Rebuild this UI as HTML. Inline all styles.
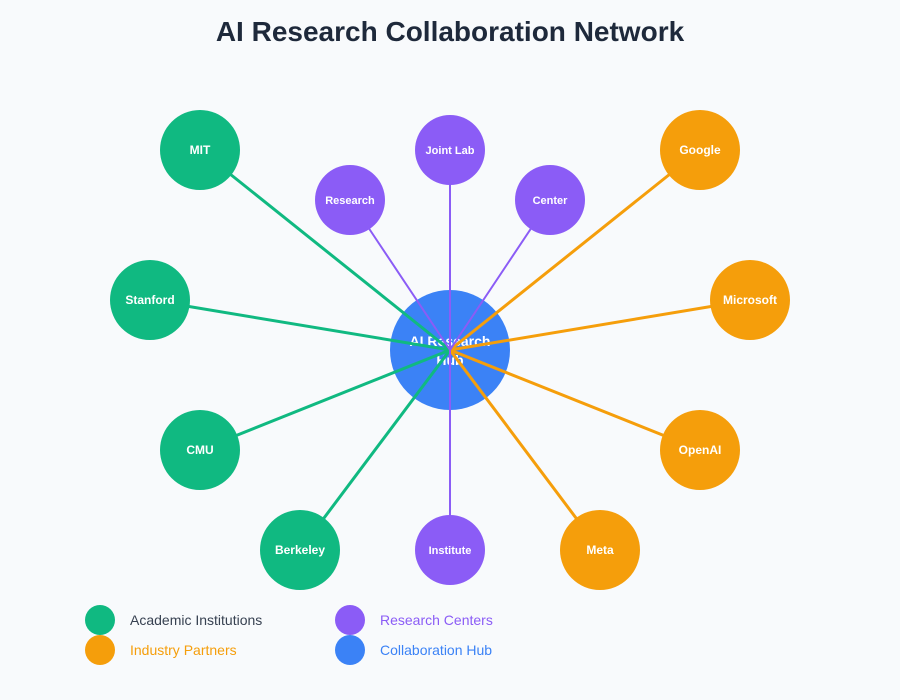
<!DOCTYPE html>
<html><head><meta charset="utf-8"><style>
html,body{margin:0;padding:0;background:#f8fafc;}
svg{display:block;}
text{font-family:"Liberation Sans",Arial,sans-serif;}
</style></head><body>
<svg width="900" height="700" viewBox="0 0 900 700" xmlns="http://www.w3.org/2000/svg">
<rect width="900" height="700" fill="#f8fafc"/>
<text x="450" y="41" text-anchor="middle" font-size="28" font-weight="bold" fill="#1e293b">AI Research Collaboration Network</text>
<circle cx="450" cy="350" r="60" fill="#3b82f6"/>
<text x="450" y="346" text-anchor="middle" font-size="14" font-weight="bold" fill="#fff">AI Research</text>
<text x="450" y="365" text-anchor="middle" font-size="14" font-weight="bold" fill="#fff">Hub</text>
<g stroke-width="3" fill="none">
<line x1="450" y1="350" x2="200" y2="150" stroke="#10b981"/>
<line x1="450" y1="350" x2="150" y2="300" stroke="#10b981"/>
<line x1="450" y1="350" x2="200" y2="450" stroke="#10b981"/>
<line x1="450" y1="350" x2="300" y2="550" stroke="#10b981"/>
<line x1="450" y1="350" x2="700" y2="150" stroke="#f59e0b"/>
<line x1="450" y1="350" x2="750" y2="300" stroke="#f59e0b"/>
<line x1="450" y1="350" x2="700" y2="450" stroke="#f59e0b"/>
<line x1="450" y1="350" x2="600" y2="550" stroke="#f59e0b"/>
</g>
<g stroke-width="2" stroke="#8b5cf6">
<line x1="450" y1="350" x2="350" y2="200"/>
<line x1="450" y1="350" x2="450" y2="150"/>
<line x1="450" y1="350" x2="550" y2="200"/>
<line x1="450" y1="350" x2="450" y2="550"/>
</g>
<g font-weight="bold" fill="#fff" text-anchor="middle">
<circle cx="200" cy="150" r="40" fill="#10b981"/><text x="200" y="154" font-size="12">MIT</text>
<circle cx="150" cy="300" r="40" fill="#10b981"/><text x="150" y="304" font-size="12">Stanford</text>
<circle cx="200" cy="450" r="40" fill="#10b981"/><text x="200" y="454" font-size="12">CMU</text>
<circle cx="300" cy="550" r="40" fill="#10b981"/><text x="300" y="554" font-size="12">Berkeley</text>
<circle cx="700" cy="150" r="40" fill="#f59e0b"/><text x="700" y="154" font-size="12">Google</text>
<circle cx="750" cy="300" r="40" fill="#f59e0b"/><text x="750" y="304" font-size="12">Microsoft</text>
<circle cx="700" cy="450" r="40" fill="#f59e0b"/><text x="700" y="454" font-size="12">OpenAI</text>
<circle cx="600" cy="550" r="40" fill="#f59e0b"/><text x="600" y="554" font-size="12">Meta</text>
<circle cx="350" cy="200" r="35" fill="#8b5cf6"/><text x="350" y="204" font-size="11">Research</text>
<circle cx="450" cy="150" r="35" fill="#8b5cf6"/><text x="450" y="154" font-size="11">Joint Lab</text>
<circle cx="550" cy="200" r="35" fill="#8b5cf6"/><text x="550" y="204" font-size="11">Center</text>
<circle cx="450" cy="550" r="35" fill="#8b5cf6"/><text x="450" y="554" font-size="11">Institute</text>
</g>
<circle cx="100" cy="620" r="15" fill="#10b981"/>
<text x="130" y="625" font-size="14" fill="#374151">Academic Institutions</text>
<circle cx="100" cy="650" r="15" fill="#f59e0b"/>
<text x="130" y="655" font-size="14" fill="#f59e0b">Industry Partners</text>
<circle cx="350" cy="620" r="15" fill="#8b5cf6"/>
<text x="380" y="625" font-size="14" fill="#8b5cf6">Research Centers</text>
<circle cx="350" cy="650" r="15" fill="#3b82f6"/>
<text x="380" y="655" font-size="14" fill="#3b82f6">Collaboration Hub</text>
</svg>
</body></html>
